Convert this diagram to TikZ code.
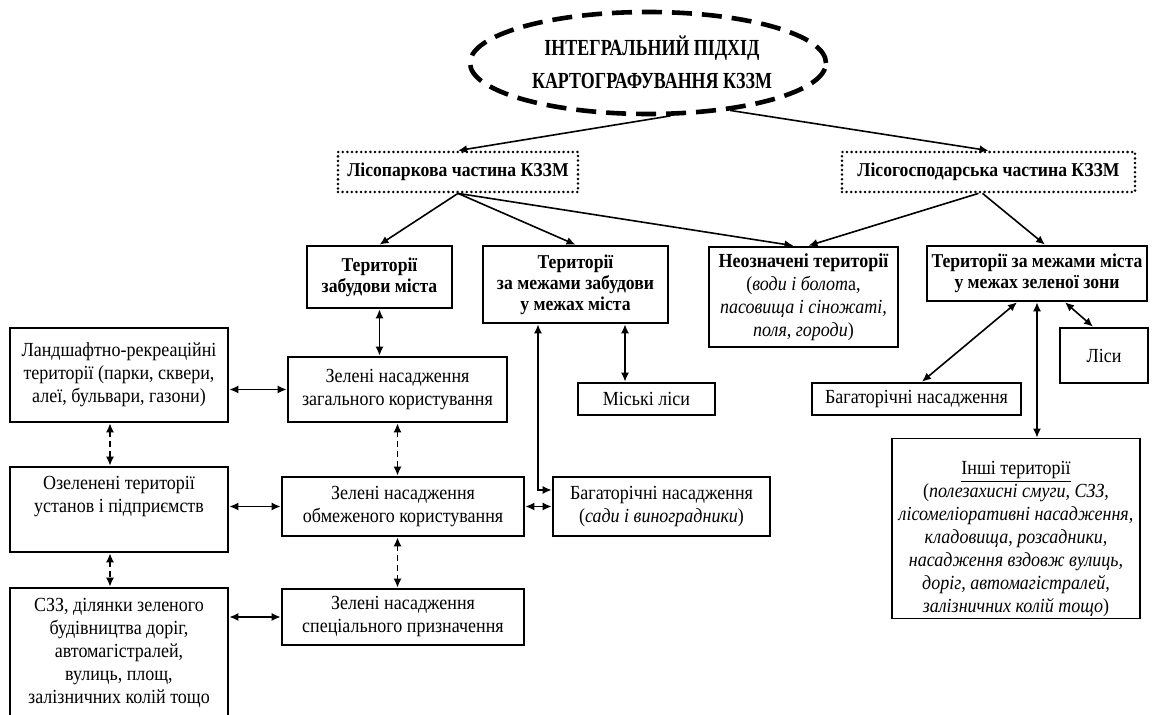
\documentclass[tikz,border=0pt]{standalone}
\usepackage{fontspec}
\setmainfont{Liberation Serif}[FakeStretch=0.9]
\newfontfamily\titlefont{Liberation Serif}[FakeStretch=0.78]
\usetikzlibrary{arrows.meta,shapes.geometric,calc}
\begin{document}
\begin{tikzpicture}[x=0.5pt,y=-0.5pt,
  box/.style={draw,line width=1.3pt,rectangle,align=center,inner sep=1pt,
    font=\fontsize{10}{11.5}\selectfont},
  hbox/.style={box,font=\fontsize{9.8}{10.5}\selectfont\bfseries},
  dotbox/.style={draw,line width=1.4pt,line cap=round,dash pattern=on 0pt off 2.3pt,
    rectangle,align=center,font=\fontsize{9.8}{11}\selectfont\bfseries},
  thinbox/.style={box,line width=0.7pt},
  tip/.tip={Latex[length=4.5pt,width=4pt]},
  arr/.style={line width=0.8pt,-tip},
  darr/.style={line width=0.8pt,tip-tip},
  ddarr/.style={darr,dash pattern=on 3pt off 2pt},
]
\useasboundingbox (0,0) rectangle (1153,715);
\clip (0,0) rectangle (1153,715);
% title ellipse
\node[draw,ellipse,line width=2.3pt,dash pattern=on 10pt off 5pt,
  minimum width=178pt,minimum height=51pt,inner sep=0pt] (E) at (648,63) {};
\node[align=center,inner sep=0pt,font=\titlefont\fontsize{11.5}{16.5}\selectfont\bfseries]
  (ET) at (652,62) {ІНТЕГРАЛЬНИЙ ПІДХІД\\КАРТОГРАФУВАННЯ КЗЗМ};
% dotted boxes
\node[dotbox,minimum width=120pt,minimum height=20pt] (LP) at (458,172) {Лісопаркова частина КЗЗМ};
\node[dotbox,minimum width=146.5pt,minimum height=20pt] (LG) at (988.5,172) {Лісогосподарська частина КЗЗМ};
% level 2
\node[hbox,minimum width=72.5pt,minimum height=31pt] (A) at (379.5,277) {Території\\забудови міста};
\node[hbox,minimum width=92.5pt,minimum height=38.5pt] (B) at (575.5,284.5) {Території\\за межами забудови\\у межах міста};
\node[box,minimum width=94.5pt,minimum height=50pt] (C) at (803.5,297)
  {\textbf{Неозначені території}\\(\textit{води і болот}а,\\\textit{пасовища і сіножаті,}\\\textit{поля, городи})};
\node[hbox,minimum width=110pt,minimum height=27.5pt] (D) at (1037,273.5) {Території за межами міста\\у межах зеленої зони};
% left column
\node[box,minimum width=109pt,minimum height=47pt] (L1) at (119,375) {Ландшафтно-рекреаційні\\території (парки, сквери,\\алеї, бульвари, газони)};
\node[box,minimum width=109pt,minimum height=42.5pt] (L2) at (119,509.5) {Озеленені території\\установ і підприємств\\\strut};
\node[box,minimum width=109pt,minimum height=65pt] (L3) at (119,653) {СЗЗ, ділянки зеленого\\будівництва доріг,\\автомагістралей,\\вулиць, площ,\\залізничних колій тощо};
% middle column
\node[box,minimum width=109.5pt,minimum height=32.5pt] (M1) at (397.5,389.5) {Зелені насадження\\загального користування};
\node[box,minimum width=121pt,minimum height=29.5pt] (M2) at (403,506.5) {Зелені насадження\\обмеженого користування};
\node[box,minimum width=121pt,minimum height=28pt] (M3) at (403,617) {Зелені насадження\\спеціального призначення};
% right middle
\node[box,minimum width=68.5pt,minimum height=16pt] (ML) at (646.5,399) {Міські ліси};
\node[box,minimum width=108.5pt,minimum height=29.5pt] (SV) at (661.5,506.5) {Багаторічні насадження\\(\textit{сади і виноградники})};
% right
\node[box,minimum width=44pt,minimum height=27.5pt] (LS) at (1104,355.5) {Ліси};
\node[box,minimum width=104.5pt,minimum height=16pt] (BR) at (916.5,399) {Багаторічні насадження};
\node[thinbox,minimum width=124pt,minimum height=89.5pt] (IN) at (1016,528.5)
  {\rule{0pt}{17pt}\underline{Інші території}\\(\textit{полезахисні смуги, СЗЗ,}\\\textit{лісомеліоративні насадження,}\\\textit{кладовища, розсадники,}\\\textit{насадження вздовж вулиць,}\\\textit{доріг, автомагістралей,}\\\textit{залізничних колій тощо})};
% connectors
\draw[arr] (E.-67) -- (LP.north);
\draw[arr] (E.-30) -- (LG.north);
\draw[arr] (LP.south) -- (A.north);
\draw[arr] (LP.south) -- (B.north);
\draw[arr] (LP.south) -- ([xshift=-5pt]C.north);
\draw[arr] ([xshift=-5pt]LG.south) -- ([xshift=2.5pt]C.north);
\draw[arr] ([xshift=-3pt]LG.south) -- ([xshift=4pt]D.north);
\draw[darr] (A.south) -- (A.south |- M1.north);
\draw[ddarr] (M1.south) -- (M1.south |- M2.north);
\draw[ddarr] (M1.south |- M2.south) -- (M1.south |- M3.north);
\draw[darr] (L1.east |- M1.west) -- (M1.west);
\draw[darr] (L2.east |- M2.west) -- (M2.west);
\draw[darr] (L3.east |- M3.west) -- (M3.west);
\draw[ddarr] ([xshift=-4.5pt]L1.south) -- ([xshift=-4.5pt]L2.north);
\draw[ddarr] ([xshift=-4.5pt]L2.south) -- ([xshift=-4.5pt]L3.north);
\draw[darr] ([xshift=-10.75pt]ML.north |- B.south) -- ([xshift=-10.75pt]ML.north);
\draw[darr] ([xshift=-18.75pt]B.south) |- ([yshift=8.25pt]SV.west);
\draw[darr] (M2.east) -- (M2.east -| SV.west);
\draw[darr] ([xshift=14pt]D.south) -- ([xshift=-5.5pt]LS.north);
\draw[darr] ([xshift=-10pt]D.south) -- ([xshift=2.75pt]BR.north);
\draw[darr] (D.south) -- (D.south |- IN.north);
\end{tikzpicture}
\end{document}
